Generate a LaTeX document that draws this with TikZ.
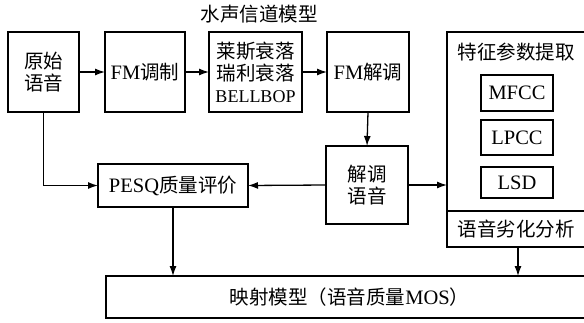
\documentclass[tikz,border=0pt]{standalone}
\usepackage{fontspec}
\setmainfont{Noto Sans CJK SC}
\newfontfamily\lat{Liberation Serif}
\newcommand{\lt}[1]{{\lat\fontsize{20.5}{22}\selectfont #1}}
\usetikzlibrary{arrows.meta}
\begin{document}
\begin{tikzpicture}[x=1pt,y=-1pt,
  every node/.style={inner sep=0pt,outer sep=0pt},
  blk/.style={draw,line width=1.3pt,align=center,font=\fontsize{19.5}{22}\selectfont},
  lbl/.style={align=center,font=\fontsize{19.5}{22}\selectfont},
  arr/.style={line width=1.3pt,-{Latex[length=10pt,width=7pt]}}]
\useasboundingbox (0,0) rectangle (584,322);
\node[lbl] (title) at (259,14) {水声信道模型};
\node[blk,minimum width=71pt,minimum height=80pt] (yuan) at (43.5,72) {原始\\语音};
\node[blk,minimum width=80pt,minimum height=80pt] (fmmod) at (145,72) {\lt{FM}调制};
\node[blk,minimum width=93pt,minimum height=80pt] (fade) at (255.5,72) {莱斯衰落\\瑞利衰落\\{\lat\fontsize{18}{22}\selectfont BELLBOP}};
\node[blk,minimum width=82pt,minimum height=80pt] (fmdem) at (368,72) {\lt{FM}解调};
\node[blk,minimum width=138pt,minimum height=179pt] (feat) at (516,121.5) {};
\node[lbl] (feattitle) at (516,52) {特征参数提取};
\node[blk,minimum width=138pt,minimum height=36pt] (deg) at (516,229) {语音劣化分析};
\node[blk,minimum width=72pt,minimum height=36pt] (mfcc) at (517,93) {\lt{MFCC}};
\node[blk,minimum width=72pt,minimum height=35pt] (lpcc) at (517,137.5) {\lt{LPCC}};
\node[blk,minimum width=72pt,minimum height=31pt] (lsd) at (517,182.5) {\lt{LSD}};
\node[blk,minimum width=82pt,minimum height=78pt] (dsp) at (367,185) {解调\\语音};
\node[blk,minimum width=150pt,minimum height=43pt] (pesq) at (173,185.5) {\lt{PESQ}质量评价};
\node[blk,minimum width=487pt,minimum height=42pt] (map) at (349.5,297) {映射模型（语音质量\lt{MOS}）};
\draw[arr] (yuan.east) -- (fmmod.west);
\draw[arr] (fmmod.east) -- (fade.west);
\draw[arr] (fade.east) -- (fmdem.west);
\draw[arr] (fmdem.south) -- (dsp.north);
\draw[arr] (yuan.south) |- (pesq.west);
\draw[arr] (dsp.west) -- (pesq.east);
\draw[arr] (dsp.east) -- (dsp.east -| feat.west);
\draw[arr] (pesq.south) -- (pesq.south |- map.north);
\coordinate (fb) at (518,247);
\draw[arr] (fb) -- (fb |- map.north);
\end{tikzpicture}
\end{document}
